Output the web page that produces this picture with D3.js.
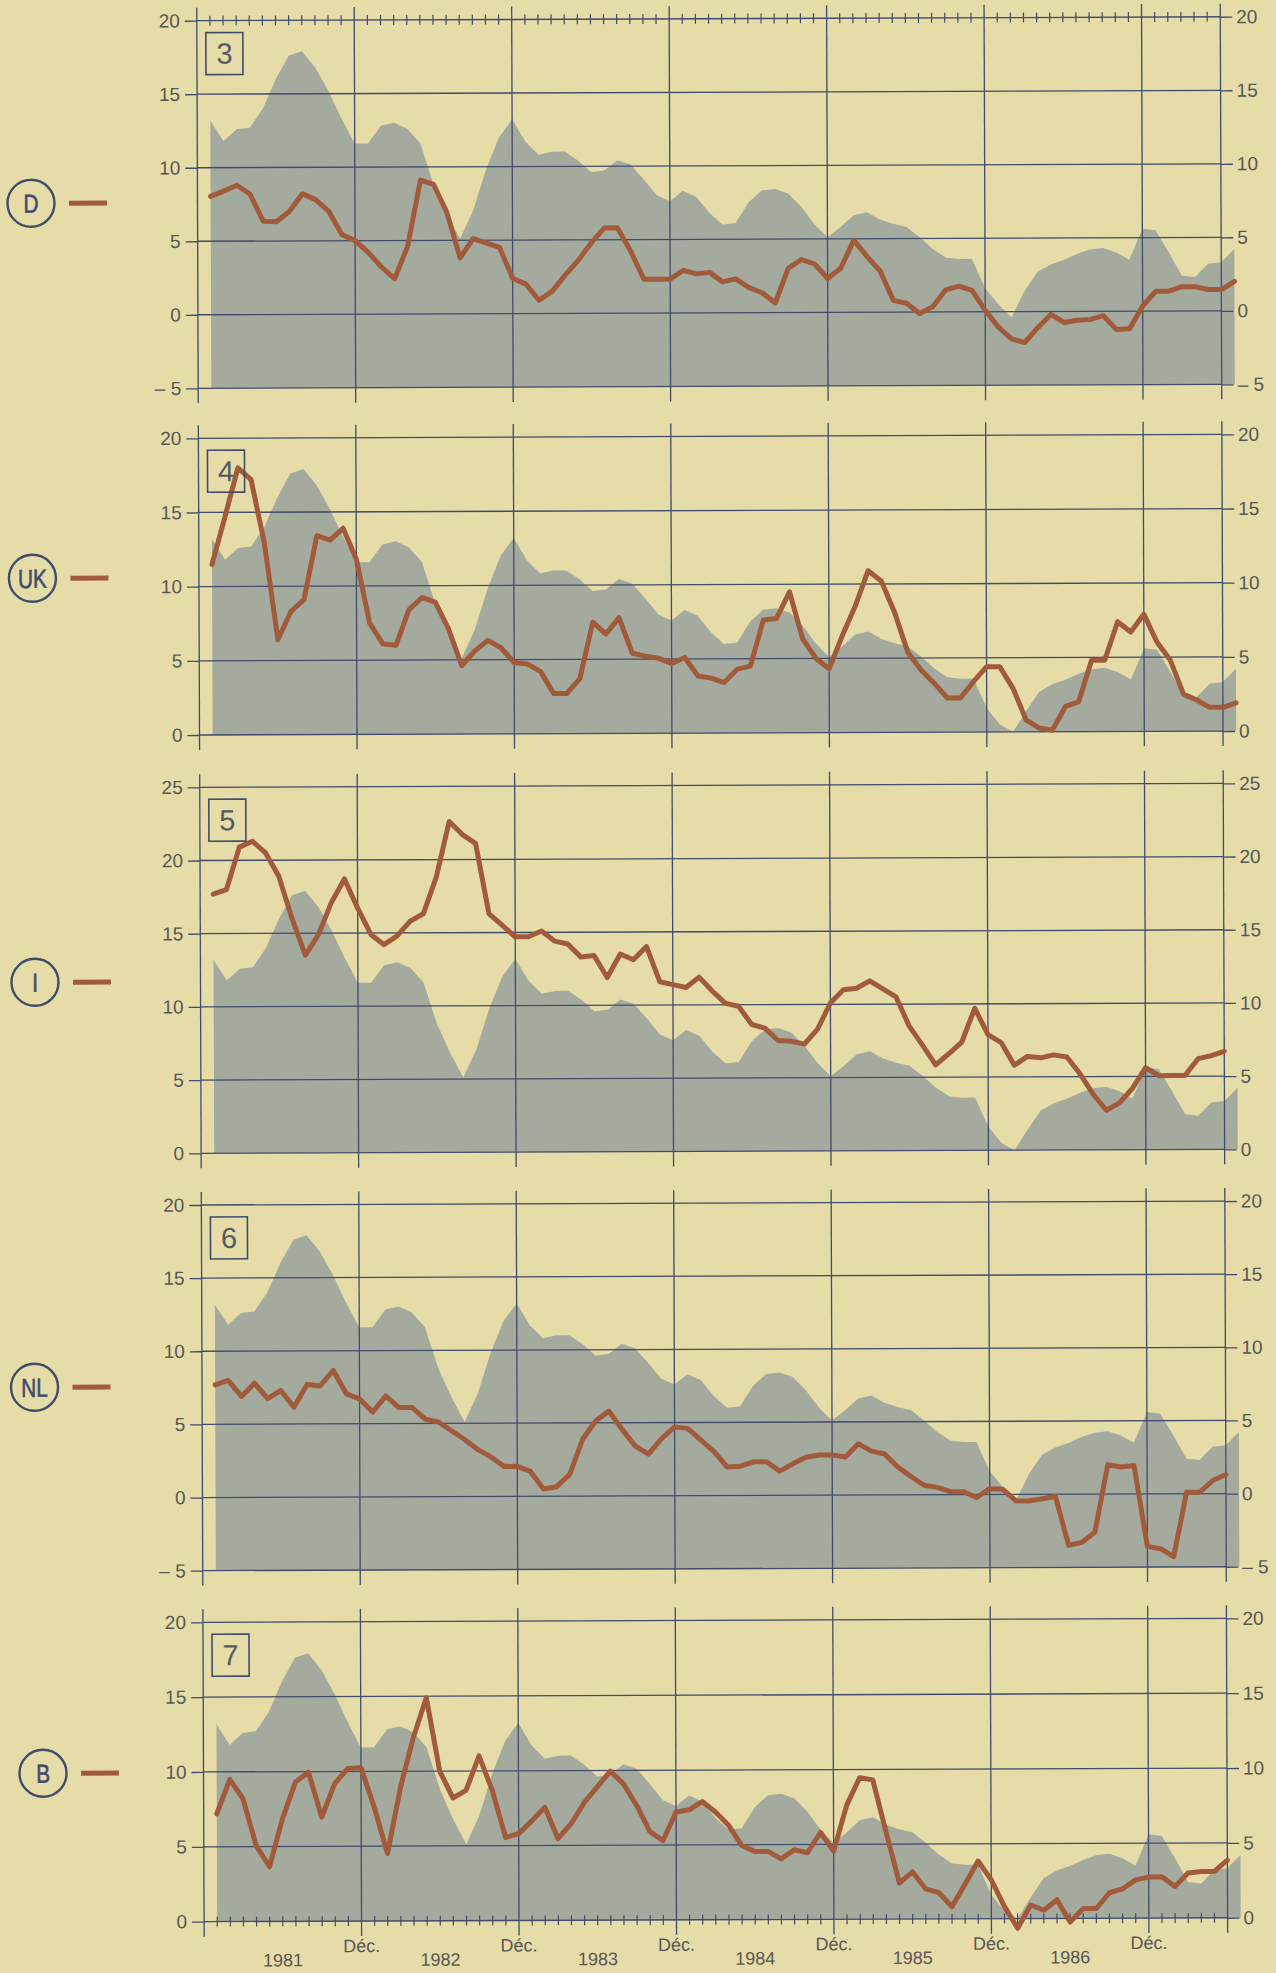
<!DOCTYPE html>
<html>
<head>
<meta charset="utf-8">
<script src="https://cdn.jsdelivr.net/npm/d3@7"></script>
<style>
  body { margin: 0; background: #e6dca7; }
  svg { display: block; }
</style>
</head>
<body>
<svg id="chart" width="1276" height="1973"></svg>
<script>
// ---------------- DATA ----------------
// month index: Jan 1981 = 1 ... Jul 1987 = 79 (Dec of each year = 12, 24, ...)
const months = d3.range(1, 80);

// grey background series (same in every panel)
const greyValues = [13.2, 11.8, 12.6, 12.7, 14.0, 16.0, 17.6, 17.9, 16.8, 15.2,
  13.3, 11.6, 11.6, 12.8, 13.0, 12.6, 11.6, 8.8, 6.8, 5.1,
  7.0, 9.8, 12.0, 13.2, 11.7, 10.8, 11.0, 11.0, 10.4, 9.6,
  9.7, 10.4, 10.1, 9.1, 8.0, 7.6, 8.3, 7.9, 6.8, 6.0,
  6.1, 7.5, 8.3, 8.4, 8.1, 7.2, 6.0, 5.1, 5.8, 6.6,
  6.8, 6.3, 6.0, 5.8, 5.1, 4.3, 3.7, 3.6, 3.6, 1.6,
  0.5, -0.4, 1.4, 2.7, 3.2, 3.5, 3.9, 4.2, 4.3, 4.0,
  3.5, 5.6, 5.5, 4.0, 2.4, 2.3, 3.2, 3.3, 4.2];

const valuesD = [8.05, 8.4, 8.8, 8.2, 6.35, 6.3, 7.0, 8.2, 7.8, 7.0,
  5.4, 5.0, 4.2, 3.2, 2.4, 4.6, 9.1, 8.8, 6.9, 3.8,
  5.1, 4.8, 4.5, 2.4, 2.0, 0.9, 1.5, 2.6, 3.6, 4.8,
  5.8, 5.8, 4.2, 2.3, 2.3, 2.3, 2.9, 2.65, 2.75, 2.1,
  2.3, 1.7, 1.35, 0.65, 3.0, 3.6, 3.3, 2.3, 3.0, 4.9,
  3.8, 2.8, 0.8, 0.6, -0.1, 0.35, 1.5, 1.75, 1.45, 0.1,
  -1.05, -1.85, -2.1, -1.1, -0.2, -0.75, -0.6, -0.55, -0.3, -1.25,
  -1.2, 0.35, 1.35, 1.35, 1.65, 1.65, 1.45, 1.45, 2.0];

const valuesUK = [11.5, 14.7, 18.0, 17.2, 12.9, 6.4, 8.3, 9.1, 13.4, 13.1,
  13.9, 11.8, 7.5, 6.1, 6.0, 8.4, 9.2, 8.9, 7.1, 4.6,
  5.6, 6.3, 5.8, 4.8, 4.7, 4.2, 2.7, 2.7, 3.7, 7.5,
  6.7, 7.8, 5.4, 5.2, 5.05, 4.7, 5.1, 3.85, 3.7, 3.4,
  4.3, 4.5, 7.6, 7.7, 9.5, 6.3, 5.0, 4.3, 6.5, 8.5,
  10.9, 10.2, 8.1, 5.4, 4.2, 3.3, 2.3, 2.3, 3.4, 4.4,
  4.4, 2.95, 0.8, 0.25, 0.1, 1.7, 2.0, 4.8, 4.8, 7.4,
  6.7, 7.9, 6.0, 4.8, 2.5, 2.1, 1.6, 1.6, 1.9];

const valuesI = [17.7, 18.0, 20.9, 21.3, 20.5, 18.9, 16.0, 13.5, 14.9, 17.1,
  18.7, 16.7, 14.9, 14.2, 14.8, 15.8, 16.3, 18.8, 22.6, 21.7,
  21.1, 16.3, 15.5, 14.7, 14.7, 15.1, 14.4, 14.2, 13.3, 13.4,
  11.9, 13.5, 13.1, 14.0, 11.6, 11.4, 11.2, 11.9, 10.95, 10.1,
  9.9, 8.65, 8.4, 7.55, 7.5, 7.3, 8.3, 10.1, 11.0, 11.1,
  11.6, 11.05, 10.5, 8.5, 7.2, 5.85, 6.6, 7.4, 9.7, 7.9,
  7.35, 5.8, 6.4, 6.3, 6.5, 6.35, 5.2, 3.8, 2.7, 3.2,
  4.2, 5.6, 5.05, 5.05, 5.05, 6.2, 6.4, 6.7];

const valuesNL = [7.7, 8.0, 6.9, 7.8, 6.75, 7.3, 6.15, 7.7, 7.6, 8.65,
  7.05, 6.7, 5.8, 6.9, 6.1, 6.1, 5.3, 5.1, 4.5, 3.9,
  3.2, 2.7, 2.05, 2.05, 1.7, 0.5, 0.65, 1.5, 3.9, 5.15,
  5.8, 4.55, 3.4, 2.85, 3.9, 4.7, 4.6, 3.8, 3.0, 1.95,
  2.0, 2.3, 2.3, 1.65, 2.15, 2.6, 2.75, 2.75, 2.6, 3.5,
  3.0, 2.8, 1.9, 1.25, 0.65, 0.5, 0.2, 0.2, -0.2, 0.4,
  0.35, -0.45, -0.45, -0.3, -0.15, -3.5, -3.3, -2.6, 2.0, 1.85,
  1.95, -3.6, -3.75, -4.3, 0.1, 0.1, 0.9, 1.3];

const valuesB = [7.2, 9.5, 8.2, 5.05, 3.65, 6.85, 9.3, 9.95, 6.95, 9.2,
  10.2, 10.25, 7.6, 4.5, 8.9, 12.25, 14.9, 10.0, 8.2, 8.7,
  11.0, 8.7, 5.55, 5.8, 6.65, 7.55, 5.45, 6.45, 7.85, 8.9,
  9.95, 9.1, 7.65, 5.9, 5.3, 7.2, 7.35, 7.9, 7.2, 6.3,
  4.95, 4.55, 4.55, 4.05, 4.65, 4.45, 5.8, 4.55, 7.6, 9.45,
  9.3, 5.8, 2.4, 3.15, 2.0, 1.75, 0.8, 2.3, 3.85, 2.6,
  0.8, -0.65, 0.9, 0.55, 1.25, -0.25, 0.65, 0.65, 1.7, 1.95,
  2.55, 2.75, 2.75, 2.1, 3.0, 3.1, 3.1, 3.85];

const countryCodes = ["D", "UK", "I", "NL", "B"];
const panelNumbers = ["3", "4", "5", "6", "7"];
const countrySeries = [valuesD, valuesUK, valuesI, valuesNL, valuesB];
const yDomains = [[-5, 20], [0, 20], [0, 25], [-5, 20], [0, 20]];
const yTickValues = [[-5, 0, 5, 10, 15, 20], [0, 5, 10, 15, 20], [0, 5, 10, 15, 20, 25],
                     [-5, 0, 5, 10, 15, 20], [0, 5, 10, 15, 20]];
const decMonths = [12, 24, 36, 48, 60, 72];
const yearLabels = ["1981", "1982", "1983", "1984", "1985", "1986"];
const yearMonths = [6, 18, 30, 42, 54, 66];
const decLabel = "Déc.";

// ---------------- LAYOUT / STYLE ----------------
const W = 1276, H = 1973;
const BG = "#e6dca7", GREY = "#a5aa9f", GRID = "#414b6b", LINE = "#a15a3a", TXT = "#575757";
const FONT = "'Liberation Sans', Arial, sans-serif";
const xLeft = 200.5, xRight = 1224;
const panelTops = [19, 436.6, 785.6, 1203.3, 1620.6];
const panelBottoms = [386.6, 733.3, 1151.6, 1569, 1920];
const circleX = [34, 34, 35, 33, 40];
const circleY = [201, 576, 980, 1385, 1771];

const x = d3.scaleLinear().domain([0, 78]).range([xLeft, xRight]);
const fmt = d => d < 0 ? "\u2013 " + Math.abs(d) : String(d);

const svg = d3.select("#chart");
svg.append("rect").attr("width", W).attr("height", H).attr("fill", BG);
const root = svg.append("g").attr("transform", "rotate(-0.22,638,986)");

countryCodes.forEach((code, i) => {
  const lo = yDomains[i][0];
  const y = d3.scaleLinear().domain(yDomains[i]).range([panelBottoms[i], panelTops[i]]);
  const g = root.append("g");

  // grey reference area
  const area = d3.area()
    .x((d, j) => x(months[j]))
    .y0(y(lo))
    .y1(d => y(Math.max(d, lo)));
  g.append("path").datum(greyValues).attr("d", area).attr("fill", GREY);

  // horizontal grid lines
  g.selectAll("line.h").data(yTickValues[i]).join("line")
    .attr("class", "h")
    .attr("x1", xLeft).attr("x2", xRight)
    .attr("y1", d => y(d)).attr("y2", d => y(d))
    .attr("stroke", GRID).attr("stroke-width", 1.3);

  // vertical lines: axes and December lines
  g.selectAll("line.v").data([0].concat(decMonths, [78])).join("line")
    .attr("class", "v")
    .attr("x1", d => x(d)).attr("x2", d => x(d))
    .attr("y1", y(yDomains[i][1]) - 13).attr("y2", y(lo) + 15)
    .attr("stroke", GRID).attr("stroke-width", 1.3);

  // left and right axes (labels + outer tick stubs)
  const axL = g.append("g").attr("transform", `translate(${xLeft},0)`)
    .call(d3.axisLeft(y).tickValues(yTickValues[i]).tickSize(12).tickPadding(5).tickFormat(fmt));
  const axR = g.append("g").attr("transform", `translate(${xRight},0)`)
    .call(d3.axisRight(y).tickValues(yTickValues[i]).tickSize(12).tickPadding(4).tickFormat(fmt));
  [axL, axR].forEach(ax => {
    ax.select(".domain").remove();
    ax.selectAll(".tick line").attr("stroke", GRID).attr("stroke-width", 1.3);
    ax.selectAll(".tick text").attr("fill", TXT).attr("font-size", 19).attr("font-family", FONT);
  });

  // monthly minor ticks on top (first panel) and bottom (last panel)
  const minor = months.filter(m => m < 78 && m % 12 !== 0);
  if (i === 0 || i === countryCodes.length - 1) {
    const yy = i === 0 ? y(yDomains[i][1]) : y(lo);
    g.selectAll("line.minor").data(minor).join("line")
      .attr("class", "minor")
      .attr("x1", d => x(d)).attr("x2", d => x(d))
      .attr("y1", yy - 5).attr("y2", yy + 5)
      .attr("stroke", GRID).attr("stroke-width", 1.2);
  }

  // country line
  const line = d3.line().x((d, j) => x(months[j])).y(d => y(d));
  g.append("path").datum(countrySeries[i]).attr("d", line)
    .attr("fill", "none").attr("stroke", LINE).attr("stroke-width", 5)
    .attr("stroke-linejoin", "round").attr("stroke-linecap", "round");

  // numbered box
  const bx = xLeft + 9, by = y(yDomains[i][1]) + 12;
  g.append("rect").attr("x", bx).attr("y", by).attr("width", 37).attr("height", 42)
    .attr("fill", "none").attr("stroke", GRID).attr("stroke-width", 1.6);
  g.append("text").attr("x", bx + 18.5).attr("y", by + 31)
    .attr("text-anchor", "middle").attr("font-size", 29).attr("font-family", FONT)
    .attr("fill", "#545862").text(panelNumbers[i]);

  // country circle + legend dash
  const cg = g.append("g").attr("transform", `translate(${circleX[i]},${circleY[i]})`);
  cg.append("circle").attr("r", 23.5).attr("fill", "none").attr("stroke", GRID).attr("stroke-width", 2.4);
  cg.append("text").attr("transform", "scale(0.8,1)").attr("y", 9.5)
    .attr("text-anchor", "middle").attr("font-size", 26).attr("font-family", FONT)
    .attr("fill", GRID).attr("stroke", GRID).attr("stroke-width", 0.6).text(code);
  cg.append("line").attr("x1", 38).attr("x2", 76).attr("y1", 0).attr("y2", 0)
    .attr("stroke", LINE).attr("stroke-width", 5);
});

// bottom labels
const lastBottom = panelBottoms[panelBottoms.length - 1];
root.selectAll("text.dec").data(decMonths).join("text")
  .attr("class", "dec")
  .attr("x", d => x(d)).attr("y", lastBottom + 31)
  .attr("text-anchor", "middle").attr("font-size", 18).attr("font-family", FONT)
  .attr("fill", TXT).text(decLabel);
root.selectAll("text.year").data(yearLabels).join("text")
  .attr("class", "year")
  .attr("x", (d, j) => x(yearMonths[j])).attr("y", lastBottom + 45)
  .attr("text-anchor", "middle").attr("font-size", 18).attr("font-family", FONT)
  .attr("fill", TXT).text(d => d);
</script>
</body>
</html>
